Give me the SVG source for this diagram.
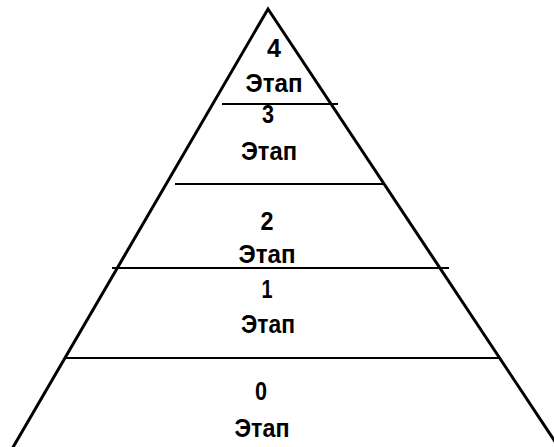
<svg xmlns="http://www.w3.org/2000/svg" width="554" height="447" viewBox="0 0 554 447">
<style>
.side{stroke:#000;stroke-width:3;fill:none;stroke-linecap:round}
.div{stroke:#000;stroke-width:2;fill:none}
.t{font-family:"Liberation Sans",Arial,sans-serif;font-weight:bold;font-size:25px;fill:#000;text-anchor:middle}
</style>
<rect width="554" height="447" fill="#fff"/>
<g id="connectors">
<polyline class="side" points="12,449 268,9 560,449"/>
<line class="div" x1="222" y1="104" x2="338" y2="104"/>
<line class="div" x1="175" y1="184" x2="383" y2="184"/>
<line class="div" x1="112" y1="268" x2="449" y2="268"/>
<line class="div" x1="65" y1="358" x2="500" y2="358"/>
</g>
<g id="stage4"><text class="t" x="274" y="57" textLength="14" lengthAdjust="spacingAndGlyphs">4</text><text class="t" x="274" y="92" textLength="57" lengthAdjust="spacingAndGlyphs">Этап</text></g>
<g id="stage3"><text class="t" x="268" y="123" textLength="12" lengthAdjust="spacingAndGlyphs">3</text><text class="t" x="269" y="160" textLength="56" lengthAdjust="spacingAndGlyphs">Этап</text></g>
<g id="stage2"><text class="t" x="267" y="230" textLength="13" lengthAdjust="spacingAndGlyphs">2</text><text class="t" x="267" y="263" textLength="57" lengthAdjust="spacingAndGlyphs">Этап</text></g>
<g id="stage1"><text class="t" x="267" y="298" textLength="11" lengthAdjust="spacingAndGlyphs">1</text><text class="t" x="268" y="333" textLength="54" lengthAdjust="spacingAndGlyphs">Этап</text></g>
<g id="stage0"><text class="t" x="261" y="400" textLength="12" lengthAdjust="spacingAndGlyphs">0</text><text class="t" x="262" y="437" textLength="55" lengthAdjust="spacingAndGlyphs">Этап</text></g>
</svg>
